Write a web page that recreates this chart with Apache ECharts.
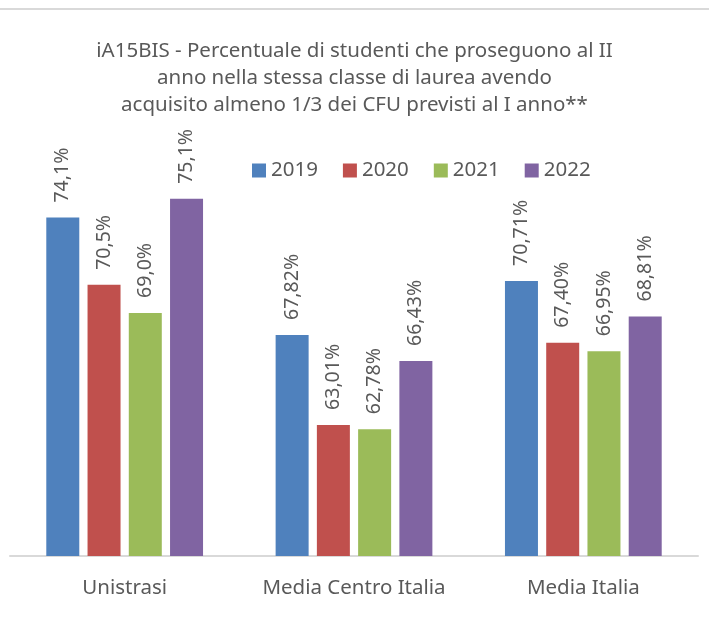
<!DOCTYPE html>
<html>
<head>
<meta charset="utf-8">
<script src="https://cdn.jsdelivr.net/npm/echarts@6/dist/echarts.min.js"></script>
<style>
  html, body { margin: 0; padding: 0; background: #fff; }
  #main { width: 709px; height: 627px; }
  #topline { position: absolute; left: 0; top: 8px; width: 709px; height: 2px; background: #d9d9d9; }
</style>
</head>
<body>
<div id="topline"></div>
<div id="main"></div>
<script>
var categories = ['Unistrasi', 'Media Centro Italia', 'Media Italia'];
var years = ['2019', '2020', '2021', '2022'];
var values2019 = [74.1, 67.82, 70.71];
var values2020 = [70.5, 63.01, 67.40];
var values2021 = [69.0, 62.78, 66.95];
var values2022 = [75.1, 66.43, 68.81];
// labels as printed in the chart
var labels2019 = ['74,1%', '67,82%', '70,71%'];
var labels2020 = ['70,5%', '63,01%', '67,40%'];
var labels2021 = ['69,0%', '62,78%', '66,95%'];
var labels2022 = ['75,1%', '66,43%', '68,81%'];
var colors = ['#4f81bd', '#c0504d', '#9bbb59', '#8064a2'];

var font = 'Noto Sans';
var chart = echarts.init(document.getElementById('main'));

function makeSeries(name, values, labels, color) {
    return {
        name: name,
        type: 'bar',
        data: values,
        barWidth: 33,
        barGap: '25%',
        itemStyle: { color: color },
        label: {
            show: true,
            position: 'top',
            rotate: 90,
            align: 'left',
            verticalAlign: 'middle',
            distance: 15,
            color: '#595959',
            fontFamily: font,
            fontSize: 19.5,
            formatter: function (p) { return labels[p.dataIndex]; }
        }
    };
}

chart.setOption({
    animation: false,
    title: {
        text: 'iA15BIS - Percentuale di studenti che proseguono al II\nanno nella stessa classe di laurea avendo\nacquisito almeno 1/3 dei CFU previsti al I anno**',
        left: 'center',
        top: 33,
        textStyle: {
            fontFamily: font,
            fontSize: 20.5,
            fontWeight: 'normal',
            color: '#595959',
            lineHeight: 27
        }
    },
    legend: {
        data: years,
        left: 247,
        top: 155,
        itemWidth: 14,
        itemHeight: 14,
        itemGap: 25,
        icon: 'rect',
        textStyle: { fontFamily: font, fontSize: 20.5, color: '#595959' }
    },
    grid: { left: 10, right: 11, top: 182, bottom: 71 },
    xAxis: {
        type: 'category',
        data: categories,
        axisLine: { lineStyle: { color: '#d9d9d9', width: 2 } },
        axisTick: { show: false },
        axisLabel: { interval: 0, fontFamily: font, fontSize: 20.5, color: '#595959', margin: 22 }
    },
    yAxis: {
        type: 'value',
        min: 56,
        max: 76,
        show: false,
        splitLine: { show: false }
    },
    series: [
        makeSeries(years[0], values2019, labels2019, colors[0]),
        makeSeries(years[1], values2020, labels2020, colors[1]),
        makeSeries(years[2], values2021, labels2021, colors[2]),
        makeSeries(years[3], values2022, labels2022, colors[3])
    ]
});
</script>
</body>
</html>
